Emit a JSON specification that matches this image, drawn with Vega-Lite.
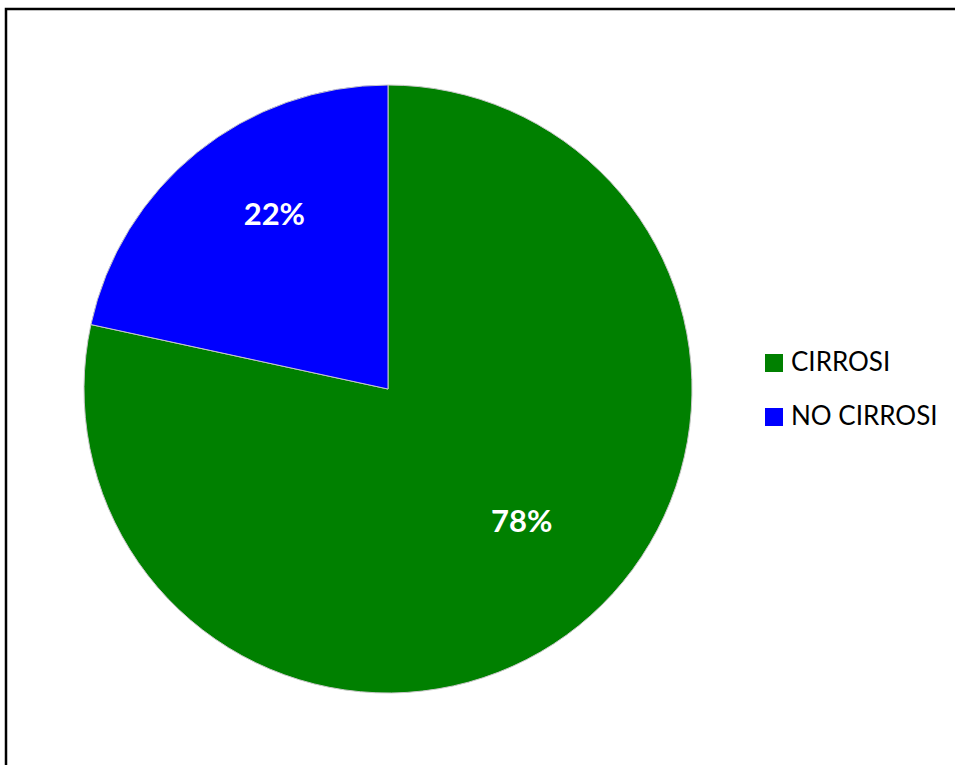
{
  "$schema": "https://vega.github.io/schema/vega-lite/v6.json",
  "autosize": "none",
  "width": 960,
  "height": 770,
  "padding": {"left": 6, "top": 9, "right": 0, "bottom": 0},
  "background": "white",
  "config": {
    "view": {"stroke": null},
    "font": "Lato"
  },
  "data": {
    "values": [
      {"categoria": "CIRROSI", "valore": 78.4, "etichetta": "78%"},
      {"categoria": "NO CIRROSI", "valore": 21.6, "etichetta": "22%"}
    ]
  },
  "layer": [
    {
      "data": {"values": [{"cornice": "area del grafico"}]},
      "mark": {"type": "rect", "x": 0, "y": 0, "x2": 980, "y2": 790, "fill": null, "fillOpacity": 0, "stroke": "black", "strokeWidth": 2.5},
      "encoding": {}
    },
    {
      "mark": {"type": "arc", "outerRadius": 304, "x": 382, "y": 380, "stroke": "#c8c8c8", "strokeWidth": 1},
      "encoding": {
        "theta": {"field": "valore", "type": "quantitative", "stack": true},
        "order": {"field": "categoria", "type": "nominal"},
        "color": {
          "field": "categoria",
          "type": "nominal",
          "scale": {"domain": ["CIRROSI", "NO CIRROSI"], "range": ["#008000", "#0000FF"]},
          "legend": {
            "title": null,
            "orient": "none",
            "legendX": 755,
            "legendY": 341,
            "symbolType": "square",
            "symbolSize": 324,
            "symbolStrokeWidth": 0,
            "labelFontSize": 26,
            "labelFont": "Lato",
            "labelColor": "black",
            "labelOffset": 4,
            "rowPadding": 28,
            "padding": 0
          }
        }
      }
    },
    {
      "mark": {"type": "text", "radius": 197, "x": 382, "y": 380, "dx": 10, "dy": -19.5, "fontSize": 31, "fontWeight": "bold", "fill": "white", "font": "Lato"},
      "encoding": {
        "theta": {"field": "valore", "type": "quantitative", "stack": true},
        "order": {"field": "categoria", "type": "nominal"},
        "text": {"field": "etichetta", "type": "nominal"}
      }
    }
  ]
}
